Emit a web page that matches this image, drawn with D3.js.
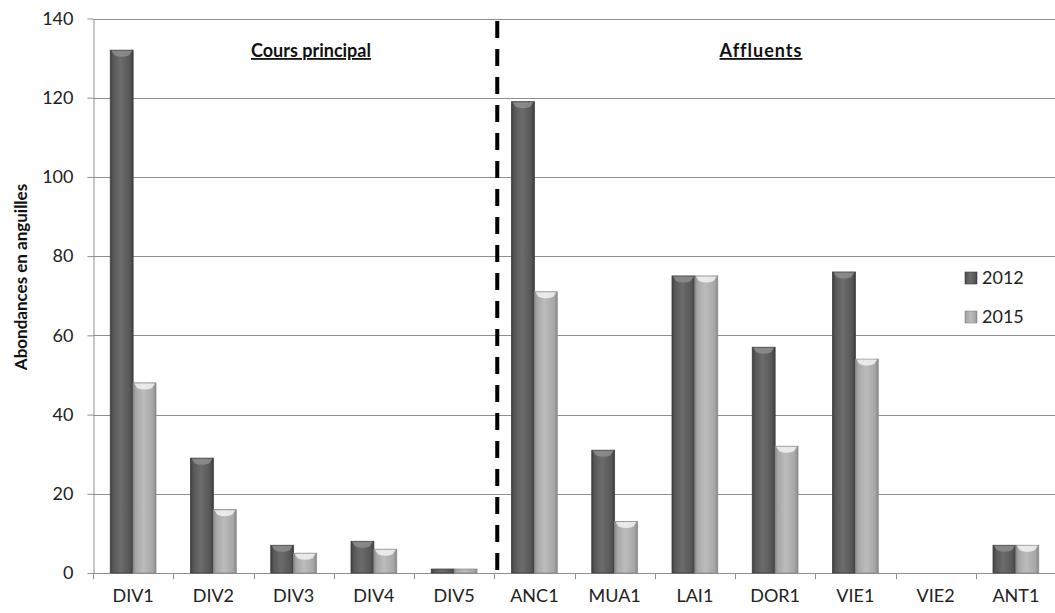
<!DOCTYPE html>
<html>
<head>
<meta charset="utf-8">
<script src="https://cdn.jsdelivr.net/npm/d3@7"></script>
<style>
  html, body { margin: 0; padding: 0; background: #fff; }
  svg { display: block; font-family: Lato, "Open Sans", sans-serif; }
</style>
</head>
<body>
<svg id="chart" width="1055" height="613"></svg>
<script>
// Stations sampled along the main river and its tributaries
const stations = ["DIV1", "DIV2", "DIV3", "DIV4", "DIV5", "ANC1", "MUA1", "LAI1", "DOR1", "VIE1", "VIE2", "ANT1"];
const years = ["2012", "2015"];
const values2012 = [132, 29, 7, 8, 1, 119, 31, 75, 57, 76, 0, 7];
const values2015 = [48, 16, 5, 6, 1, 71, 13, 75, 32, 54, 0, 7];
const yTicks = [0, 20, 40, 60, 80, 100, 120, 140];
const mainStretchCount = 5; // first five stations are on the main course

const series = [
  { year: years[0], values: values2012, base: "#575757", dark: "#3e3e3e", light: "#6c6c6c", cap: "#8e8e8e" },
  { year: years[1], values: values2015, base: "#a7a7a7", dark: "#8a8a8a", light: "#bcbcbc", cap: "#f2f2f2" }
];

const svg = d3.select("#chart");
const plotLeft = 93, plotRight = 1056, plotTop = 18.5, plotBottom = 573;

const x = d3.scaleBand().domain(stations).range([plotLeft, plotRight]).paddingInner(0.43).paddingOuter(0.215);
const x1 = d3.scaleBand().domain(years).range([0, x.bandwidth()]);
const y = d3.scaleLinear().domain([0, 140]).range([plotBottom, plotTop]);

// Gradients giving the bars a rounded, cylinder-like shading
const defs = svg.append("defs");
series.forEach((s, i) => {
  const g = defs.append("linearGradient").attr("id", "grad" + i)
    .attr("x1", "0%").attr("x2", "100%").attr("y1", "0%").attr("y2", "0%");
  g.append("stop").attr("offset", "0%").attr("stop-color", s.dark);
  g.append("stop").attr("offset", "12%").attr("stop-color", s.base);
  g.append("stop").attr("offset", "45%").attr("stop-color", s.light);
  g.append("stop").attr("offset", "85%").attr("stop-color", s.base);
  g.append("stop").attr("offset", "100%").attr("stop-color", s.dark);
});

// Horizontal gridlines
svg.append("g")
  .selectAll("line").data(yTicks.filter(d => d > 0)).join("line")
  .attr("x1", plotLeft).attr("x2", 1055)
  .attr("y1", d => Math.round(y(d)) + 0.5).attr("y2", d => Math.round(y(d)) + 0.5)
  .attr("stroke", "#8f8f8f").attr("stroke-width", 1);

// Y axis
const yAxis = svg.append("g").attr("transform", `translate(${plotLeft + 0.5},0)`)
  .call(d3.axisLeft(y).tickValues(yTicks).tickSize(6).tickSizeOuter(0).tickPadding(14));
yAxis.select(".domain").attr("stroke", "#8f8f8f");
yAxis.selectAll(".tick line").attr("stroke", "#8f8f8f");
yAxis.selectAll(".tick text").attr("font-size", 18).attr("fill", "#222").attr("font-family", "Lato, sans-serif");

// X axis with labels centred under each station and ticks on band boundaries
const xAxis = svg.append("g").attr("transform", `translate(0,${plotBottom + 0.5})`)
  .call(d3.axisBottom(x).tickSize(0).tickPadding(16));
xAxis.select(".domain").attr("stroke", "#8f8f8f").attr("d", `M${plotLeft},0H1055`);
xAxis.selectAll(".tick text").attr("font-size", 18).attr("fill", "#222").attr("font-family", "Lato, sans-serif");

const boundaries = d3.range(stations.length + 1).map(i => plotLeft + i * x.step());
svg.append("g").selectAll("line").data(boundaries).join("line")
  .attr("x1", d => Math.round(d) + 0.5).attr("x2", d => Math.round(d) + 0.5)
  .attr("y1", plotBottom).attr("y2", plotBottom + 6)
  .attr("stroke", "#8f8f8f");

// Bars
series.forEach((s, i) => {
  const g = svg.append("g");
  const data = stations.map((st, k) => ({ st, v: s.values[k] })).filter(d => d.v > 0);
  g.selectAll("rect").data(data).join("rect")
    .attr("x", d => x(d.st) + x1(s.year))
    .attr("y", d => y(d.v))
    .attr("width", x1.bandwidth())
    .attr("height", d => y(0) - y(d.v))
    .attr("fill", `url(#grad${i})`)
    .attr("stroke", s.dark).attr("stroke-width", 0.8);
  // bevelled top cap
  g.selectAll("path").data(data.filter(d => y(0) - y(d.v) > 6)).join("path")
    .attr("d", d => {
      const x0 = x(d.st) + x1(s.year), w = x1.bandwidth(), t = y(d.v);
      return `M${x0 + 1},${t + 0.5} L${x0 + w - 1},${t + 0.5} L${x0 + w - 4},${t + 5} Q${x0 + w / 2},${t + 8} ${x0 + 4},${t + 5} Z`;
    })
    .attr("fill", s.cap).attr("opacity", 0.85);
});

// Dashed separator between the main course and the tributaries
const sepX = plotLeft + mainStretchCount * x.step() + 3;
svg.append("line")
  .attr("x1", sepX).attr("x2", sepX).attr("y1", 21).attr("y2", plotBottom)
  .attr("stroke", "#000").attr("stroke-width", 4).attr("stroke-dasharray", "17,11");

// Section titles
const titles = [
  { text: "Cours principal", cx: 311, spacing: 0 },
  { text: "Affluents", cx: 761, spacing: 1 }
];
titles.forEach(t => {
  svg.append("text").attr("x", t.cx).attr("y", 57)
    .attr("text-anchor", "middle").attr("font-size", 18).attr("font-weight", "bold")
    .attr("letter-spacing", t.spacing)
    .attr("fill", "#111").attr("text-decoration", "underline").text(t.text);
});

// Y axis title
svg.append("text")
  .attr("transform", `translate(27,277) rotate(-90)`)
  .attr("text-anchor", "middle").attr("font-size", 17).attr("font-weight", "bold")
  .attr("fill", "#111").text("Abondances en anguilles");

// Legend
const legend = svg.append("g");
series.forEach((s, i) => {
  const ly = 278 + i * 39;
  legend.append("rect").attr("x", 965).attr("y", ly - 6).attr("width", 12).attr("height", 12)
    .attr("fill", `url(#grad${i})`).attr("stroke", s.dark).attr("stroke-width", 0.6);
  legend.append("text").attr("x", 982).attr("y", ly).attr("dy", "0.35em")
    .attr("font-size", 18).attr("fill", "#222").text(s.year);
});
</script>
</body>
</html>
